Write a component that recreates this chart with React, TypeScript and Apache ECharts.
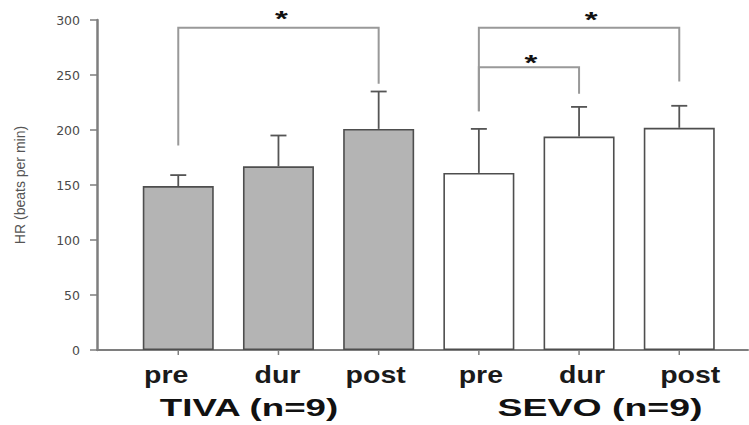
import React, { useEffect, useRef } from "react";
import * as echarts from "echarts";

// ---- data ----
const categories = ["pre", "dur", "post", "pre", "dur", "post"];
const groupNames = ["TIVA (n=9)", "SEVO (n=9)"];
const tivaMeans = [149, 167, 201];
const tivaErr = [10, 28, 34];
const sevoMeans = [161, 194, 202];
const sevoErr = [40, 27, 20];
const yMin = 0;
const yMax = 300;
const yStep = 50;
// brackets: [fromIndex, toIndex, barHeight, leftLegEnd, rightLegEnd]
const brackets = [
  [0, 2, 293, 186, 242],
  [3, 5, 293, 217, 244],
  [3, 4, 257, 217, 233],
];
// significance stars: [x (category units), y (value)]
const stars = [
  [1.03, 306],
  [4.12, 305],
  [3.52, 266],
];

// ---- layout constants ----
const labelDx = [-12, -1, -3, 2, 3, 11];
const FONT = "'Liberation Sans', Arial, sans-serif";
const AXIS_COLOR = "#7e7e7e";
const BAR_BORDER = "#4e4e4e";

export default function App() {
  const ref = useRef<HTMLDivElement>(null);

  useEffect(() => {
    if (!ref.current) return;
    const chart = echarts.init(ref.current, undefined, { renderer: "svg" });

    const tivaData = tivaMeans.map((v, i) => [i, v]);
    const sevoData = sevoMeans.map((v, i) => [i + 3, v]);
    const errData = [
      ...tivaMeans.map((v, i) => [i, v, tivaErr[i]]),
      ...sevoMeans.map((v, i) => [i + 3, v, sevoErr[i]]),
    ];

    const textStyle = (text: string, font: string, fill: string) => ({
      text,
      x: 0,
      y: 0,
      fill,
      font,
      align: "center",
      verticalAlign: "middle",
      textAlign: "center",
      textVerticalAlign: "middle",
    });

    const option: any = {
      animation: false,
      grid: { left: 97, right: 1, top: 20, bottom: 75, containLabel: false },
      xAxis: {
        type: "value",
        min: -0.811,
        max: 5.686,
        axisLine: { show: true, onZero: false, lineStyle: { color: AXIS_COLOR, width: 2 } },
        axisTick: { show: false },
        axisLabel: { show: false },
        splitLine: { show: false },
      },
      yAxis: {
        type: "value",
        min: yMin,
        max: yMax,
        interval: yStep,
        name: "HR (beats per min)",
        nameLocation: "middle",
        nameGap: 70,
        nameTextStyle: { fontSize: 14, color: "#555", fontFamily: FONT },
        axisLine: { show: true, onZero: false, lineStyle: { color: AXIS_COLOR, width: 2.5 } },
        axisTick: { show: true, inside: false, length: 7, lineStyle: { color: AXIS_COLOR, width: 1.5 } },
        axisLabel: { color: "#4a4a4a", fontSize: 12.5, fontFamily: "'DejaVu Sans', sans-serif", margin: 17 },
        splitLine: { show: false },
      },
      series: [
        {
          name: "TIVA",
          type: "bar",
          data: tivaData,
          barWidth: 71,
          barGap: "-100%",
          itemStyle: { color: "#b4b4b4", borderColor: BAR_BORDER, borderWidth: 1.6 },
        },
        {
          name: "SEVO",
          type: "bar",
          data: sevoData,
          barWidth: 71,
          barGap: "-100%",
          itemStyle: { color: "#ffffff", borderColor: BAR_BORDER, borderWidth: 1.6 },
        },
        {
          name: "err",
          type: "custom",
          data: errData,
          encode: { x: 0, y: 1 },
          clip: false,
          z: 5,
          renderItem: (params: any, api: any) => {
            const x = api.value(0);
            const m = api.value(1);
            const e = api.value(2);
            const p0 = api.coord([x, m]);
            const p1 = api.coord([x, m + e]);
            const cap = 8;
            const st = { stroke: "#555", lineWidth: 1.8 };
            return {
              type: "group",
              children: [
                { type: "line", shape: { x1: p0[0], y1: p0[1], x2: p1[0], y2: p1[1] }, style: st },
                { type: "line", shape: { x1: p1[0] - cap, y1: p1[1], x2: p1[0] + cap, y2: p1[1] }, style: st },
              ],
            };
          },
        },
        {
          name: "brackets",
          type: "custom",
          data: brackets,
          encode: { x: [0, 1], y: [2, 3, 4] },
          clip: false,
          z: 5,
          renderItem: (params: any, api: any) => {
            const a = api.value(0);
            const b = api.value(1);
            const h = api.value(2);
            const l = api.value(3);
            const r = api.value(4);
            const pTL = api.coord([a, h]);
            const pTR = api.coord([b, h]);
            const pL = api.coord([a, l]);
            const pR = api.coord([b, r]);
            return {
              type: "polyline",
              shape: { points: [pL, pTL, pTR, pR] },
              style: { stroke: "#999", lineWidth: 2, fill: "none" },
            };
          },
        },
        {
          name: "stars",
          type: "custom",
          data: stars,
          encode: { x: 0, y: 1 },
          clip: false,
          z: 6,
          renderItem: (params: any, api: any) => {
            const p = api.coord([api.value(0), api.value(1)]);
            const fs = 22;
            return {
              type: "text",
              x: p[0],
              y: p[1] + fs * 0.23,
              scaleX: 1.5,
              style: textStyle("*", `bold ${fs}px ${FONT}`, "#111"),
            };
          },
        },
        {
          name: "labels",
          type: "custom",
          data: categories.map((c, i) => [i, 0]),
          encode: { x: 0, y: 1 },
          clip: false,
          z: 6,
          renderItem: (params: any, api: any) => {
            const i = params.dataIndex;
            const p = api.coord([api.value(0), api.value(1)]);
            return {
              type: "group",
              children: [
                {
                  type: "line",
                  shape: { x1: p[0], y1: p[1] + 1, x2: p[0], y2: p[1] + 5 },
                  style: { stroke: AXIS_COLOR, lineWidth: 1.5 },
                },
                {
                  type: "text",
                  x: p[0] + labelDx[i],
                  y: p[1] + 25,
                  scaleX: 1.24,
                  style: textStyle(categories[i], `bold 23px ${FONT}`, "#1a1a1a"),
                },
              ],
            };
          },
        },
      ],
      graphic: [
        {
          type: "text",
          x: 249,
          y: 408,
          scaleX: 1.53,
          style: textStyle(groupNames[0], `bold 24px ${FONT}`, "#111"),
        },
        {
          type: "text",
          x: 600,
          y: 408,
          scaleX: 1.56,
          style: textStyle(groupNames[1], `bold 24px ${FONT}`, "#111"),
        },
      ],
    };

    chart.setOption(option);
    return () => chart.dispose();
  }, []);

  return (
    <div
      ref={ref}
      style={{ position: "absolute", left: 0, top: 0, width: 749, height: 425, background: "#fff" }}
    />
  );
}
